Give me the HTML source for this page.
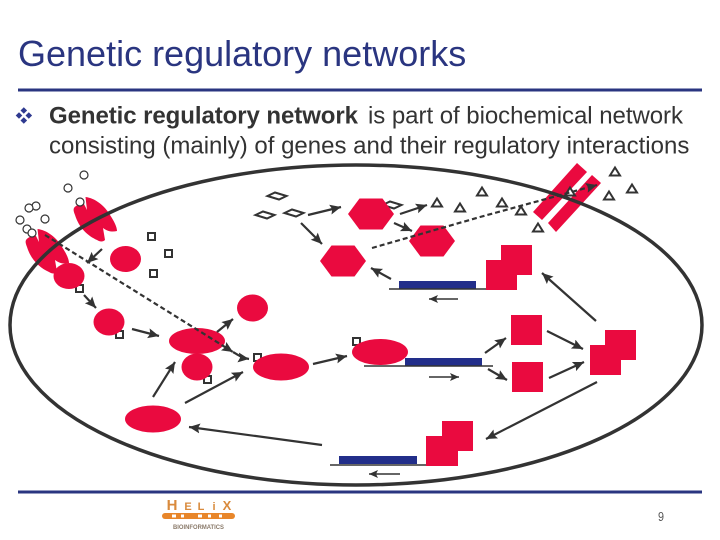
<!DOCTYPE html>
<html>
<head>
<meta charset="utf-8">
<title>Genetic regulatory networks</title>
<style>
html,body{margin:0;padding:0;background:#fff;width:720px;height:540px;overflow:hidden}
svg{display:block}
text{font-family:"Liberation Sans",sans-serif}
</style>
</head>
<body>
<svg width="720" height="540" viewBox="0 0 720 540" xmlns="http://www.w3.org/2000/svg">
<defs>
<marker id="a" markerUnits="userSpaceOnUse" markerWidth="14" markerHeight="12" refX="11" refY="5" orient="auto">
<path d="M0 0L11 5L0 10L2 5Z" fill="#333"/>
</marker>
<marker id="b" markerUnits="userSpaceOnUse" markerWidth="12" markerHeight="10" refX="9" refY="4" orient="auto">
<path d="M0 0L9 4L0 8L2 4Z" fill="#333"/>
</marker>
<path id="rc" d="M87 210L85.500 197C95 198 105 206 110 215C114 221 117 227 117 231C113 232 108 232 103 228L105 240C103 242 100 242 97 240C88 236 79 228 75 215C73 210 73 208 76 206C79 204 82 203 84 204Z" fill="#ea0a3f"/>
<path id="tr" d="M0 -4.500L5 3.500L-5 3.500Z" fill="#fff" stroke="#333" stroke-width="2"/>
<path id="di" d="M-9.500 0L-2 -3.500L9.500 0L2 3.500Z" fill="#fff" stroke="#333" stroke-width="2"/>
<path id="hx" d="M-11.500 -15.500L11.500 -15.500L23 0L11.500 15.500L-11.500 15.500L-23 0Z" fill="#ea0a3f"/>
</defs>

<text x="18" y="66" font-size="36" fill="#2a3580">Genetic regulatory networks</text>
<rect x="18" y="88.500" width="684" height="3" fill="#2a3580"/>

<g fill="#2f3a90">
<path d="M23.800 107.200L27.100 110.500L23.800 113.800L20.500 110.500Z"/>
<path d="M23.800 117.200L27.100 120.500L23.800 123.800L20.500 120.500Z"/>
<path d="M19 112.200L22.300 115.500L19 118.800L15.700 115.500Z"/>
<path d="M28.800 112.200L32.100 115.500L28.800 118.800L25.500 115.500Z"/>
</g>
<text x="49" y="123.500" font-size="24" font-weight="bold" fill="#333" textLength="309">Genetic regulatory network</text>
<text x="368" y="123.500" font-size="24" fill="#333" textLength="315">is part of biochemical network</text>
<text x="49" y="153.500" font-size="24" fill="#333">consisting (mainly) of genes and their regulatory interactions</text>

<use href="#rc"/>
<use href="#rc" transform="translate(-48 32)"/>
<g fill="#fff" stroke="#333" stroke-width="1.200">
<circle cx="84" cy="175" r="4"/><circle cx="68" cy="188" r="4"/><circle cx="80" cy="202" r="4"/>
<circle cx="36" cy="206" r="4"/><circle cx="29" cy="208" r="4"/><circle cx="20" cy="220" r="4"/>
<circle cx="45" cy="219" r="4"/><circle cx="27" cy="229" r="4"/><circle cx="32" cy="233" r="4"/>
</g>
<path d="M577 163L587 172L542 220L533 212Z" fill="#ea0a3f"/>
<path d="M592 175L601 183L556 232L548 223Z" fill="#ea0a3f"/>

<use href="#di" x="277" y="196"/><use href="#di" x="265" y="215"/><use href="#di" x="294" y="213"/><use href="#di" x="392" y="205"/>
<use href="#hx" x="371" y="214"/><use href="#hx" x="432" y="241"/><use href="#hx" x="343" y="261"/>

<use href="#tr" x="437" y="203"/><use href="#tr" x="460" y="208"/><use href="#tr" x="482" y="192"/>
<use href="#tr" x="502" y="203"/><use href="#tr" x="521" y="211"/><use href="#tr" x="538" y="228"/>
<use href="#tr" x="570" y="192"/><use href="#tr" x="615" y="172"/><use href="#tr" x="609" y="196"/><use href="#tr" x="632" y="189"/>

<g fill="#fff" stroke="#333" stroke-width="2">
<rect x="148" y="233" width="7" height="7"/><rect x="165" y="250" width="7" height="7"/><rect x="150" y="270" width="7" height="7"/>
<rect x="76" y="285" width="7" height="7"/><rect x="116" y="331" width="7" height="7"/><rect x="204" y="376" width="7" height="7"/>
<rect x="254" y="354" width="7" height="7"/><rect x="353" y="338" width="7" height="7"/>
</g>

<g fill="#ea0a3f">
<ellipse cx="69" cy="276" rx="15.500" ry="13"/>
<ellipse cx="125.500" cy="259" rx="15.500" ry="13"/>
<ellipse cx="109" cy="322" rx="15.500" ry="13.500"/>
<ellipse cx="252.500" cy="308" rx="15.500" ry="13.500"/>
<ellipse cx="197" cy="341" rx="28" ry="13"/>
<ellipse cx="197" cy="367" rx="15.500" ry="13.500"/>
<ellipse cx="153" cy="419" rx="28" ry="13.500"/>
<ellipse cx="281" cy="367" rx="28" ry="13.500"/>
<ellipse cx="380" cy="352" rx="28" ry="13"/>
<rect x="501" y="245" width="31" height="30"/><rect x="486" y="260" width="31" height="30"/>
<rect x="511" y="315" width="31" height="30"/><rect x="512" y="362" width="31" height="30"/>
<rect x="605" y="330" width="31" height="30"/><rect x="590" y="345" width="31" height="30"/>
<rect x="442" y="421" width="31" height="30"/><rect x="426" y="436" width="32" height="30"/>
</g>

<g fill="#222e8a">
<rect x="399" y="281" width="77" height="8"/>
<rect x="405" y="358" width="77" height="8"/>
<rect x="339" y="456" width="78" height="8"/>
</g>
<g stroke="#333" stroke-width="1.500" fill="none">
<path d="M389 289H486"/><path d="M364 366H493"/><path d="M330 465H426"/>
<path d="M458 299H429" marker-end="url(#b)"/>
<path d="M429 377H459" marker-end="url(#b)"/>
<path d="M400 474H369" marker-end="url(#b)"/>
</g>

<ellipse cx="356" cy="325" rx="346" ry="160" fill="none" stroke="#333" stroke-width="3.500"/>

<g stroke="#333" stroke-width="2.200" fill="none">
<path d="M102 249L87 263" marker-end="url(#a)"/>
<path d="M84 295L96 308" marker-end="url(#a)"/>
<path d="M132 329L159 336" marker-end="url(#a)"/>
<path d="M217 332L233 319" marker-end="url(#a)"/>
<path d="M153 397L175 362" marker-end="url(#a)"/>
<path d="M185 403L243 372" marker-end="url(#a)"/>
<path d="M322 445L189 427" marker-end="url(#a)"/>
<path d="M313 364L347 356" marker-end="url(#a)"/>
<path d="M308 215L341 207" marker-end="url(#a)"/>
<path d="M301 223L322 244" marker-end="url(#a)"/>
<path d="M391 279L371 268" marker-end="url(#a)"/>
<path d="M400 214L427 205" marker-end="url(#a)"/>
<path d="M394 223L412 231" marker-end="url(#a)"/>
<path d="M596 321L542 273" marker-end="url(#a)"/>
<path d="M547 331L583 349" marker-end="url(#a)"/>
<path d="M485 353L506 338" marker-end="url(#a)"/>
<path d="M488 369L507 380" marker-end="url(#a)"/>
<path d="M549 378L584 362" marker-end="url(#a)"/>
<path d="M597 382L486 439" marker-end="url(#a)"/>
<path d="M233 352C238 355 242 358 249 359" marker-end="url(#a)"/>
<path d="M45 235L233 352" stroke-dasharray="5 3" marker-end="url(#a)"/>
<path d="M372 248L480 217L597 185" stroke-dasharray="5 3" marker-end="url(#a)"/>
</g>

<rect x="18" y="490.500" width="684" height="3" fill="#2a3580"/>

<g font-weight="bold" fill="#d98a3c" text-anchor="middle">
<text x="172" y="510" font-size="15">H</text>
<text x="188" y="510" font-size="11">E</text>
<text x="201" y="510" font-size="11">L</text>
<text x="214" y="510" font-size="11">i</text>
<text x="227" y="510" font-size="13">X</text>
</g>
<rect x="162" y="513" width="73" height="6" rx="3" fill="#e8862a"/>
<g fill="#fff">
<rect x="172" y="514.500" width="4" height="3"/><rect x="181" y="514.500" width="3" height="3"/>
<rect x="198" y="514.500" width="4" height="3"/><rect x="208" y="514.500" width="3" height="3"/><rect x="219" y="514.500" width="3" height="3"/>
</g>
<text x="173" y="529" font-size="6" font-weight="bold" fill="#8a7a6a" textLength="51" lengthAdjust="spacingAndGlyphs">BIOINFORMATICS</text>

<text x="658" y="521" font-size="13" fill="#555" textLength="6" lengthAdjust="spacingAndGlyphs">9</text>
</svg>
</body>
</html>
